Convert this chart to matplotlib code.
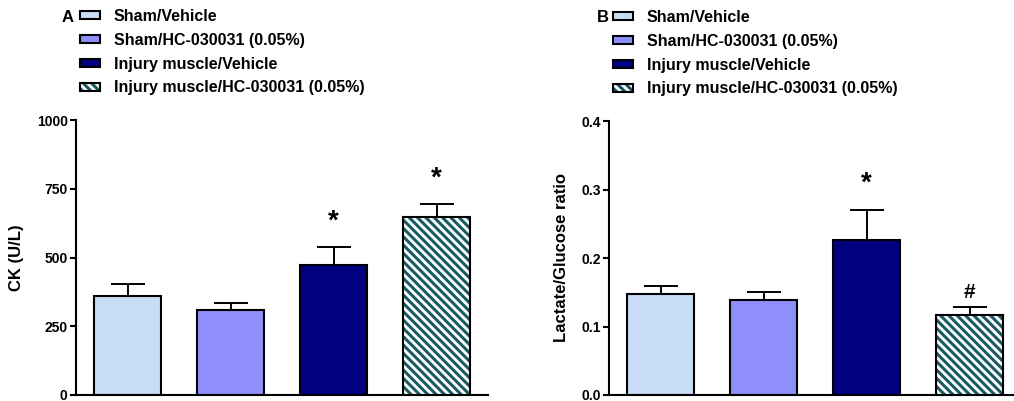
import matplotlib
matplotlib.use("Agg")
import matplotlib.pyplot as plt
from matplotlib.patches import Patch
from matplotlib.legend_handler import HandlerTuple
from matplotlib.ticker import FormatStrFormatter

plt.rcParams['font.family'] = ['Liberation Sans', 'DejaVu Sans']
plt.rcParams['font.weight'] = 'bold'
plt.rcParams['hatch.linewidth'] = 2.2

groups = ["Sham/Vehicle", "Sham/HC-030031 (0.05%)", "Injury muscle/Vehicle",
          "Injury muscle/HC-030031 (0.05%)"]
ck_mean = [359, 308, 471, 647]
ck_sem = [44, 28, 66, 46]
ck_marks = ["", "", "*", "*"]
ratio_mean = [0.147, 0.138, 0.227, 0.117]
ratio_sem = [0.012, 0.012, 0.043, 0.011]
ratio_marks = ["", "", "*", "#"]

fills = ["#C8DCF5", "#8F8FFC", "#000080", "white"]
hatches = [None, None, None, "\\\\\\\\"]
hatch_color = "#1A5A64"

W, H = 1014, 401
fig = plt.figure(figsize=(W / 100, H / 100), dpi=100)


def panel(rect, means, sems, marks, ylim, yticks, ylabel, mark_off, xmax, letter, letter_xy, leg_xy, fmt):
    ax = fig.add_axes(rect)
    x = list(range(len(means)))
    ax.errorbar(x, means, yerr=[[0] * len(sems), sems], fmt='none', ecolor='black',
                elinewidth=1.4, capsize=12, capthick=1.4, zorder=1)
    for i in x:
        if hatches[i]:
            ax.bar(i, means[i], width=0.65, color='white', edgecolor=hatch_color,
                   hatch=hatches[i], linewidth=0, zorder=2)
            ax.bar(i, means[i], width=0.65, fill=False, edgecolor='black',
                   linewidth=1.5, zorder=3)
        else:
            ax.bar(i, means[i], width=0.65, color=fills[i], edgecolor='black',
                   linewidth=1.5, zorder=2)
        if marks[i]:
            fs = 20 if marks[i] == '*' else 15
            ax.text(i, means[i] + sems[i] + mark_off[marks[i]], marks[i], ha='center',
                    va='center', fontsize=fs, fontweight='bold')
    ax.set_xlim(-0.5, xmax)
    ax.set_ylim(*ylim)
    ax.set_yticks(yticks)
    ax.yaxis.set_major_formatter(FormatStrFormatter(fmt))
    ax.set_xticks([])
    for s in ['top', 'right']:
        ax.spines[s].set_visible(False)
    for s in ['left', 'bottom']:
        ax.spines[s].set_linewidth(1.5)
    ax.tick_params(axis='y', length=4, width=1.5, labelsize=10, pad=2)
    for lab in ax.get_yticklabels():
        lab.set_fontweight('bold')
    ax.set_ylabel(ylabel, fontsize=12, fontweight='bold', labelpad=9)

    handles = []
    for i in range(len(groups)):
        if hatches[i]:
            handles.append((Patch(facecolor='white', edgecolor=hatch_color, hatch=hatches[i], linewidth=0),
                            Patch(fill=False, edgecolor='black', linewidth=1.5)))
        else:
            handles.append(Patch(facecolor=fills[i], edgecolor='black', linewidth=1.5))
    fig.legend(handles, groups, loc='upper left',
               bbox_to_anchor=(leg_xy[0] / W, 1 - leg_xy[1] / H),
               frameon=False, handlelength=1.25, handleheight=0.38,
               handletextpad=0.85, labelspacing=0.55, borderpad=0, borderaxespad=0,
               prop={'weight': 'bold', 'size': 11.5},
               handler_map={tuple: HandlerTuple(ndivide=1)})
    fig.text(letter_xy[0] / W, 1 - letter_xy[1] / H, letter, ha='left', va='center',
             fontsize=12, fontweight='bold')
    return ax


panel([76 / W, 6 / H, (488 - 76) / W, (395 - 120) / H], ck_mean, ck_sem, ck_marks,
      (0, 1000), [0, 250, 500, 750, 1000], "CK (U/L)", {'*': 95}, 3.5,
      "A", (62, 17), (80, 9), '%d')
panel([609 / W, 6 / H, (1014 - 609) / W, (395 - 121) / H], ratio_mean, ratio_sem, ratio_marks,
      (0, 0.4), [0.0, 0.1, 0.2, 0.3, 0.4], "Lactate/Glucose ratio", {'*': 0.038, '#': 0.022}, 3.43,
      "B", (597, 18), (613, 10), '%.1f')

fig.savefig("out.png", dpi=100)
